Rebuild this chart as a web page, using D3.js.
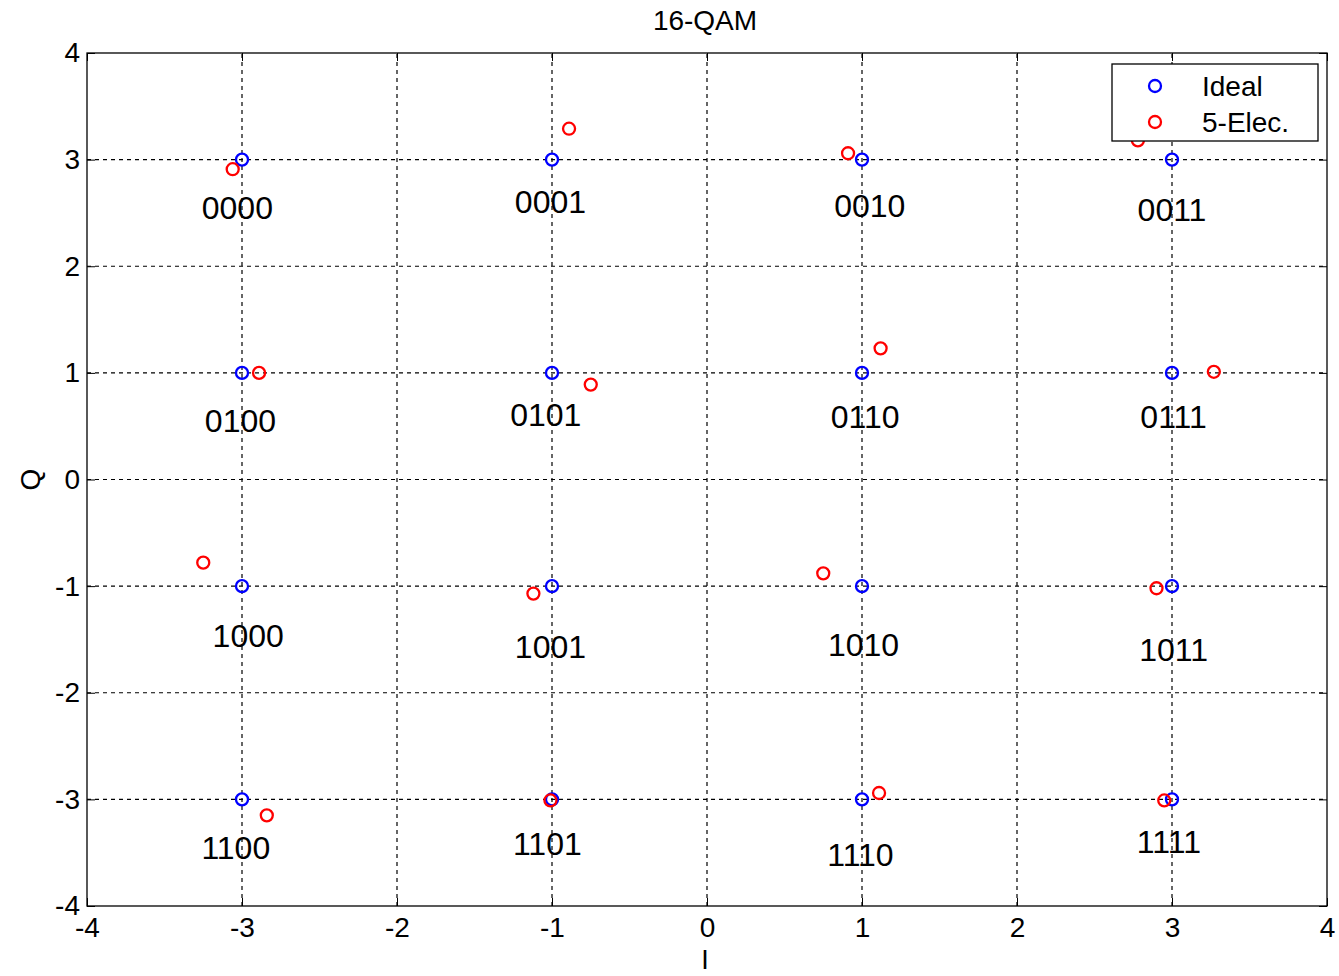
<!DOCTYPE html>
<html>
<head>
<meta charset="utf-8">
<script src="https://cdn.jsdelivr.net/npm/d3@7"></script>
<style>
  body { margin: 0; background: #fff; }
  svg { display: block; }
  text { font-family: "Liberation Sans", Arial, sans-serif; fill: #000; }
</style>
</head>
<body>
<script>
// ---------- data ----------
const symbols = ["0000","0001","0010","0011","0100","0101","0110","0111",
                 "1000","1001","1010","1011","1100","1101","1110","1111"];
const idealI = [-3,-1,1,3, -3,-1,1,3, -3,-1,1,3, -3,-1,1,3];
const idealQ = [3,3,3,3, 1,1,1,1, -1,-1,-1,-1, -3,-3,-3,-3];
const elecI = [-3.06,-0.89,0.91,2.78, -2.89,-0.75,1.12,3.27, -3.25,-1.12,0.75,2.90, -2.84,-1.01,1.11,2.95];
const elecQ = [2.91,3.29,3.06,3.18, 1.00,0.89,1.23,1.01, -0.78,-1.07,-0.88,-1.02, -3.15,-3.01,-2.94,-3.01];
// text annotation positions (data coordinates)
const labelI = [-3.03,-1.01,1.05,3.00, -3.01,-1.04,1.02,3.01, -2.96,-1.01,1.01,3.01, -3.04,-1.03,0.99,2.98];
const labelQ = [2.55,2.60,2.565,2.53, 0.55,0.61,0.585,0.585, -1.47,-1.57,-1.55,-1.60, -3.45,-3.42,-3.52,-3.40];
const xTicks = [-4,-3,-2,-1,0,1,2,3,4];
const yTicks = [-4,-3,-2,-1,0,1,2,3,4];
const seriesNames = ["Ideal","5-Elec."];
const seriesColors = ["#0000ff","#ff0000"];

// ---------- layout ----------
const W = 1339, H = 976;
const margin = {left: 87, top: 53, right: W - 1327, bottom: H - 906};
const svg = d3.select("body").append("svg").attr("width", W).attr("height", H);

const x = d3.scaleLinear().domain([-4, 4]).range([margin.left, W - margin.right]);
const y = d3.scaleLinear().domain([-4, 4]).range([H - margin.bottom, margin.top]);
const fmt = d => String(d);

// grid
const grid = svg.append("g");
grid.selectAll(".gx").data(xTicks.slice(1, -1)).join("line")
  .attr("x1", d => x(d)).attr("x2", d => x(d))
  .attr("y1", y(-4)).attr("y2", y(4))
  .attr("stroke", "#000").attr("stroke-width", 1.2).attr("stroke-dasharray", "4,4");
grid.selectAll(".gy").data(yTicks.slice(1, -1)).join("line")
  .attr("y1", d => y(d)).attr("y2", d => y(d))
  .attr("x1", x(-4)).attr("x2", x(4))
  .attr("stroke", "#000").attr("stroke-width", 1.2).attr("stroke-dasharray", "4,4");

// axes
const xAxis = d3.axisBottom(x).tickValues(xTicks).tickSize(-8).tickPadding(6).tickFormat(fmt);
const yAxis = d3.axisLeft(y).tickValues(yTicks).tickSize(-8).tickPadding(7).tickFormat(fmt);
const gx = svg.append("g").attr("transform", `translate(0,${y(-4)})`).call(xAxis);
const gy = svg.append("g").attr("transform", `translate(${x(-4)},0)`).call(yAxis);
[gx, gy].forEach(g => {
  g.select(".domain").remove();
  g.selectAll("line").attr("stroke", "#000");
  g.selectAll("text").style("font-size", "28px").attr("font-family", "Liberation Sans, Arial, sans-serif");
});
gx.selectAll("text").attr("dy", "0.9em");
// top / right ticks
svg.append("g").attr("transform", `translate(0,${y(4)})`)
  .call(d3.axisTop(x).tickValues(xTicks).tickSize(-8).tickFormat(""))
  .call(g => { g.select(".domain").remove(); g.selectAll("line").attr("stroke", "#000"); });
svg.append("g").attr("transform", `translate(${x(4)},0)`)
  .call(d3.axisRight(y).tickValues(yTicks).tickSize(-8).tickFormat(""))
  .call(g => { g.select(".domain").remove(); g.selectAll("line").attr("stroke", "#000"); });

// box
svg.append("rect").attr("x", x(-4)).attr("y", y(4))
  .attr("width", x(4) - x(-4)).attr("height", y(-4) - y(4))
  .attr("fill", "none").attr("stroke", "#000").attr("stroke-width", 1.3);

// title and axis labels
svg.append("text").attr("x", (x(-4) + x(4)) / 2 - 2).attr("y", 20).attr("dy", "0.35em")
  .attr("text-anchor", "middle").style("font-size", "28px").text("16-QAM");
svg.append("text").attr("x", (x(-4) + x(4)) / 2 - 2).attr("y", 969)
  .attr("text-anchor", "middle").style("font-size", "27px").text("I");
svg.append("text").attr("transform", `translate(30,${(y(-4) + y(4)) / 2}) rotate(-90)`)
  .attr("dy", "0.35em").attr("text-anchor", "middle").style("font-size", "28px").text("Q");

// symbol labels
svg.append("g").selectAll("text").data(symbols).join("text")
  .attr("x", (d, i) => x(labelI[i])).attr("y", (d, i) => y(labelQ[i]))
  .attr("dy", "0.35em").attr("text-anchor", "middle")
  .style("font-size", "32px").text(d => d);

// points
const pts = svg.append("g");
pts.selectAll(".ideal").data(symbols).join("circle")
  .attr("cx", (d, i) => x(idealI[i])).attr("cy", (d, i) => y(idealQ[i]))
  .attr("r", 6).attr("fill", "none").attr("stroke", seriesColors[0]).attr("stroke-width", 2.3);
pts.selectAll(".elec").data(symbols).join("circle")
  .attr("cx", (d, i) => x(elecI[i])).attr("cy", (d, i) => y(elecQ[i]))
  .attr("r", 6).attr("fill", "none").attr("stroke", seriesColors[1]).attr("stroke-width", 2.3);

// legend
const lg = svg.append("g").attr("transform", "translate(1112,64)");
lg.append("rect").attr("width", 206).attr("height", 77)
  .attr("fill", "#fff").attr("stroke", "#000").attr("stroke-width", 1.3);
seriesNames.forEach((name, i) => {
  const row = lg.append("g").attr("transform", `translate(0,${22 + i * 36})`);
  row.append("circle").attr("cx", 43).attr("cy", 0).attr("r", 6)
    .attr("fill", "none").attr("stroke", seriesColors[i]).attr("stroke-width", 2.3);
  row.append("text").attr("x", 90).attr("y", 0).attr("dy", "0.35em")
    .style("font-size", "28px").text(name);
});
</script>
</body>
</html>
